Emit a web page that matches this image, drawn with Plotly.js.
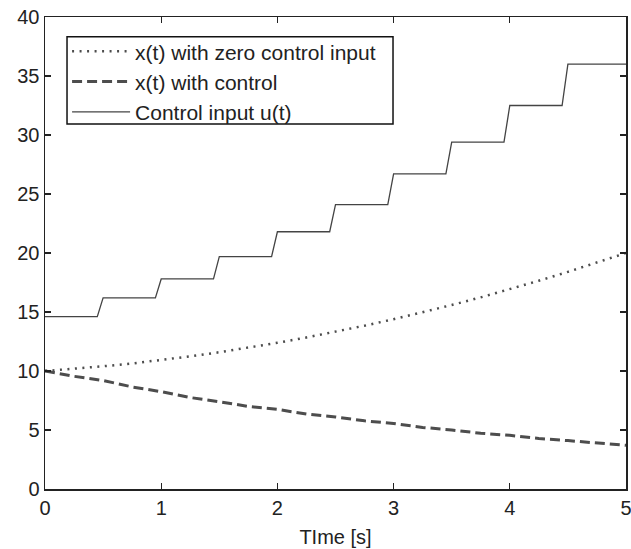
<!DOCTYPE html>
<html>
<head>
<meta charset="utf-8">
<script src="https://cdn.plot.ly/plotly-3.0.1.min.js"></script>
<style>
  html, body { margin: 0; padding: 0; background: #fff; }
  #chart { width: 631px; height: 549px; }
</style>
</head>
<body>
<div id="chart"></div>
<script>
// ---- data ----
var timeGrid = [0, 0.25, 0.5, 0.75, 1, 1.25, 1.5, 1.75, 2, 2.25, 2.5, 2.75, 3, 3.25, 3.5, 3.75, 4, 4.25, 4.5, 4.75, 5];
var xZeroControl = [10, 10.18, 10.4, 10.64, 10.93, 11.24, 11.59, 11.97, 12.39, 12.84, 13.32, 13.84, 14.39, 14.97, 15.59, 16.24, 16.93, 17.65, 18.4, 19.19, 20];
var xWithControl = [10, 9.55, 9.2, 8.65, 8.25, 7.75, 7.4, 7.0, 6.75, 6.35, 6.1, 5.78, 5.55, 5.22, 5.0, 4.72, 4.55, 4.28, 4.1, 3.87, 3.7];
var stepTimes = [0, 0.5, 1, 1.5, 2, 2.5, 3, 3.5, 4, 4.5];
var uLevels = [14.6, 16.2, 17.8, 19.7, 21.8, 24.1, 26.7, 29.4, 32.5, 36.0];
var endTime = 5;
var rampWidth = 0.05;
var seriesNames = ['x(t) with zero control input', 'x(t) with control', 'Control input u(t)'];
var xTicks = [0, 1, 2, 3, 4, 5];
var yTicks = [0, 5, 10, 15, 20, 25, 30, 35, 40];

// build the sampled step signal from the levels
var uT = [], uV = [];
for (var i = 0; i < stepTimes.length; i++) {
  if (i > 0) { uT.push(stepTimes[i] - rampWidth); uV.push(uLevels[i - 1]); }
  uT.push(stepTimes[i]); uV.push(uLevels[i]);
}
uT.push(endTime); uV.push(uLevels[uLevels.length - 1]);

var lineCol = '#4d4d4d';
var traces = [
  { x: timeGrid, y: xZeroControl, name: seriesNames[0], mode: 'lines',
    line: { color: lineCol, width: 2.5, dash: '2px,5.5px' } },
  { x: timeGrid, y: xWithControl, name: seriesNames[1], mode: 'lines',
    line: { color: lineCol, width: 3, dash: '10px,5px' } },
  { x: uT, y: uV, name: seriesNames[2], mode: 'lines',
    line: { color: '#444', width: 1.3 } }
];

var fontFam = 'Liberation Sans, Arial, Helvetica, sans-serif';
var layout = {
  width: 631, height: 549,
  margin: { l: 45, r: 5, t: 17, b: 60 },
  paper_bgcolor: '#fff', plot_bgcolor: '#fff',
  font: { family: fontFam, size: 20, color: '#222' },
  showlegend: true,
  legend: {
    x: 0.038, y: 0.970, xanchor: 'left', yanchor: 'top',
    bgcolor: 'rgba(0,0,0,0)', borderwidth: 0,
    font: { family: fontFam, size: 21, color: '#222' },
    itemwidth: 58, tracegroupgap: 0
  },
  shapes: [{
    type: 'rect', xref: 'paper', yref: 'paper',
    x0: 0.0379, x1: 0.599, y0: 0.7733, y1: 0.958,
    line: { color: '#111', width: 1.5 }, fillcolor: '#fff', layer: 'below'
  }],
  xaxis: {
    range: [0, 5], tickvals: xTicks, ticktext: xTicks.map(String),
    ticks: 'inside', ticklen: 6, tickwidth: 1.3, tickcolor: '#222',
    ticklabeloverflow: 'allow',
    showline: true, linecolor: '#222', linewidth: 1.5, mirror: 'ticks',
    showgrid: false, zeroline: false,
    tickfont: { family: fontFam, size: 20, color: '#222' },
    title: { text: 'TIme [s]', font: { family: fontFam, size: 20, color: '#222' }, standoff: 12 }
  },
  yaxis: {
    range: [0, 40], tickvals: yTicks, ticktext: yTicks.map(String),
    ticks: 'inside', ticklen: 6, tickwidth: 1.3, tickcolor: '#222',
    showline: true, linecolor: '#222', linewidth: 1.5, mirror: 'ticks',
    showgrid: false, zeroline: false,
    tickfont: { family: fontFam, size: 20, color: '#222' }
  }
};

Plotly.newPlot('chart', traces, layout, { displayModeBar: false, staticPlot: true });
</script>
</body>
</html>
